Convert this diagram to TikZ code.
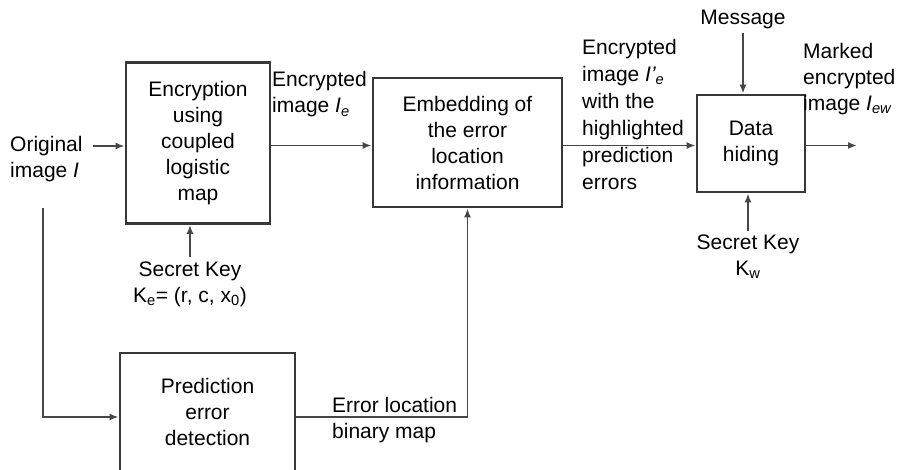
\documentclass[tikz,border=0pt]{standalone}
\usepackage{fontspec}
\setmainfont{Liberation Sans}
\usetikzlibrary{arrows.meta,calc}
\begin{document}
\begin{tikzpicture}[x=1pt,y=-1pt,
  txt/.style={font=\fontsize{21}{26}\selectfont,inner sep=0pt},
  lbl/.style={txt,align=left,anchor=west},
  block/.style={draw=black!78,line width=2.8pt,fill=white,
    font=\fontsize{21}{26}\selectfont,align=center,inner sep=0pt},
  conn/.style={draw=black!72,line width=1.8pt},
  arr/.style={conn,-{Latex[length=9pt,width=7pt]}}]
\useasboundingbox (0,0) rectangle (897,470);
\clip (0,0) rectangle (897,470);

% processing blocks
\node[block,minimum width=144pt,minimum height=161pt] (enc) at (198,143)
  {Encryption\\using\\coupled\\logistic\\map};
\node[block,minimum width=189pt,minimum height=129pt] (emb) at (467.5,142.5)
  {Embedding of\\the error\\location\\information};
\node[block,minimum width=108pt,minimum height=97pt] (hide) at (751,143.5)
  {Data\\hiding};
\node[block,minimum width=175pt,minimum height=118pt] (pred) at (207.5,412)
  {Prediction\\error\\detection};

% reference rows for the connectors
\coordinate (row) at (0,145.5);
\coordinate (low) at (0,417);
\coordinate (inA) at (93,146);
\coordinate (loopA) at (43,208);
\coordinate (outE) at (857,145.5);

% labels
\node[lbl] (orig) at (10,159.5) {Original\\image \textit{I}};
\node[txt,align=center] (ske) at (190,284)
  {Secret Key\\K\textsubscript{e}= (r, c, x\textsubscript{0})};
\node[lbl] (ie) at (272,94.5) {Encrypted\\image \textit{I\textsubscript{e}}};
\node[lbl,font=\fontsize{21}{27}\selectfont] (iep) at (582,114.5)
  {Encrypted\\image \textit{I'\textsubscript{e}}\\with the\\highlighted\\prediction\\errors};
\node[txt] (msg) at (743,19) {Message};
\node[txt,align=center] (skw) at (748,257) {Secret Key\\K\textsubscript{w}};
\node[lbl] (iew) at (803,79) {Marked\\encrypted\\image \textit{I\textsubscript{ew}}};
\node[lbl] (elb) at (332,420) {Error location\\binary map};

% connectors
\draw[arr] (inA) -- (inA -| enc.west);
\draw[arr] (loopA) |- (pred.west |- low);
\draw[arr] ($(ske.north)+(0,-4)$) -- (ske.north |- enc.south);
\draw[arr] (enc.east |- row) -- (emb.west |- row);
\draw[arr] (pred.east |- low) -| (emb.south);
\draw[arr] (emb.east |- row) -- (hide.west |- row);
\draw[arr] ($(msg.south)+(0,4)$) -- (msg.south |- hide.north);
\draw[arr] ($(skw.north)+(0,-4)$) -- (skw.north |- hide.south);
\draw[arr] (hide.east |- row) -- (outE);
\end{tikzpicture}
\end{document}
